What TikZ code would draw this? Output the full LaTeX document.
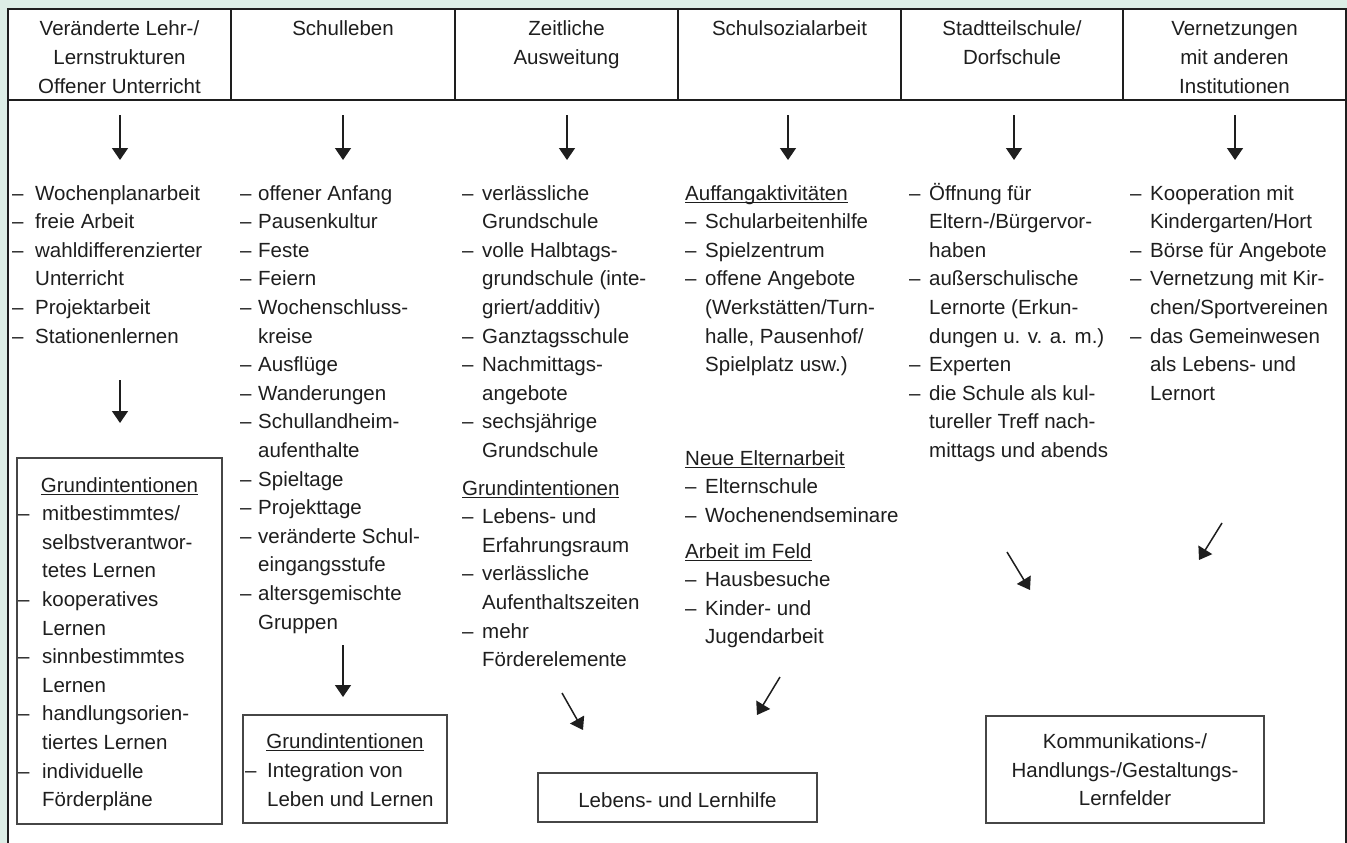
\documentclass[tikz,border=0pt]{standalone}
\usepackage{fontspec}
\setmainfont{Liberation Sans}
\usetikzlibrary{arrows.meta}
\definecolor{bggreen}{RGB}{221,238,230}
\definecolor{ink}{RGB}{30,30,30}
\definecolor{boxline}{RGB}{70,70,70}
\newsavebox\ulbox
\newcommand{\ulh}[1]{\sbox\ulbox{#1}\rlap{\rule[-3.2pt]{\wd\ulbox}{0.9pt}}\usebox\ulbox}
% #1 prefix, #2 dash x, #3 text x, #4 first baseline, #5 list
\newcommand{\colitems}[5]{%
  \foreach \k/\t [count=\i from 0] in {#5}{%
    \pgfmathsetmacro\yy{#4+28.6*\i}%
    \if\k d\node[txt] (#1-\i) at (#2,\yy) {\makebox[\dimexpr#3pt-#2pt\relax][l]{–}\t};\fi
    \if\k c\node[txt] (#1-\i) at (#3,\yy) {\t};\fi
    \if\k h\node[txt] (#1-\i) at (#2,\yy) {\ulh{\t}};\fi
  }%
}
\begin{document}
\begin{tikzpicture}[x=1pt,y=-1pt,
  font=\fontsize{20.5}{28.6}\selectfont,
  txt/.style={anchor=base west,inner sep=0pt,text=ink},
  ctr/.style={anchor=base,inner sep=0pt,text=ink},
  frameline/.style={draw=ink,line width=1.5pt},
  boxnode/.style={draw=boxline,line width=1.2pt,fill=white,inner sep=0pt},
  arr/.style={draw=ink,line width=1.5pt,-{Triangle[width=16pt,length=12pt]}}]
% background and bounding box
\fill[bggreen] (0,0) rectangle (1347,843);
\useasboundingbox (0,0) rectangle (1347,843);
\fill[white] (8,9) rectangle (1346,843);
\draw[frameline] (8,843) -- (8,9) -- (1346,9) -- (1346,843);
\draw[frameline] (8,100) -- (1346,100);
\foreach \x in {231,455,678,901,1123} \draw[frameline] (\x,9) -- (\x,100);
% header
\node[ctr] (h1a) at (119.5,36) {Veränderte Lehr-/};
\node[ctr] (h1b) at (119.5,65) {Lernstrukturen};
\node[ctr] (h1c) at (119.5,93) {Offener Unterricht};
\node[ctr] (h2a) at (343,36) {Schulleben};
\node[ctr] (h3a) at (566.5,36) {Zeitliche};
\node[ctr] (h3b) at (566.5,65) {Ausweitung};
\node[ctr] (h4a) at (789.5,36) {Schulsozialarbeit};
\node[ctr] (h5a) at (1012,36) {Stadtteilschule/};
\node[ctr] (h5b) at (1012,65) {Dorfschule};
\node[ctr] (h6a) at (1234.5,36) {Vernetzungen};
\node[ctr] (h6b) at (1234.5,65) {mit anderen};
\node[ctr] (h6c) at (1234.5,93) {Institutionen};
% columns
\colitems{c1}{12}{35}{200}{d/Wochenplanarbeit, d/freie Arbeit, d/wahldifferenzierter, c/Unterricht, d/Projektarbeit, d/Stationenlernen}
\colitems{c2}{240}{258}{200}{d/offener Anfang, d/Pausenkultur, d/Feste, d/Feiern, d/Wochenschluss-, c/kreise, d/Ausflüge, d/Wanderungen, d/Schullandheim-, c/aufenthalte, d/Spieltage, d/Projekttage, d/veränderte Schul-, c/eingangsstufe, d/altersgemischte, c/Gruppen}
\colitems{c3a}{462}{482}{200}{d/verlässliche, c/Grundschule, d/volle Halbtags-, c/{grundschule (inte-}, c/{griert/additiv)}, d/Ganztagsschule, d/Nachmittags-, c/angebote, d/sechsjährige, c/Grundschule}
\colitems{c3b}{462}{482}{495}{h/Grundintentionen, d/{Lebens- und}, c/Erfahrungsraum, d/verlässliche, c/Aufenthaltszeiten, d/mehr, c/Förderelemente}
\colitems{c4a}{685}{705}{200}{h/Auffangaktivitäten, d/Schularbeitenhilfe, d/Spielzentrum, d/offene Angebote, c/{(Werkstätten/Turn-}, c/{halle, Pausenhof/}, c/{Spielplatz usw.)}}
\colitems{c4b}{685}{705}{465}{h/Neue Elternarbeit, d/Elternschule, d/Wochenendseminare}
\colitems{c4c}{685}{705}{558}{h/Arbeit im Feld, d/Hausbesuche, d/{Kinder- und}, c/Jugendarbeit}
\colitems{c5}{909}{929}{200}{d/Öffnung für, c/{Eltern-/Bürgervor-}, c/haben, d/außerschulische, c/{Lernorte (Erkun-}, c/{dungen u. v. a. m.)}, d/Experten, d/{die Schule als kul-}, c/{tureller Treff nach-}, c/{mittags und abends}}
\colitems{c6}{1130}{1150}{200}{d/Kooperation mit, c/{Kindergarten/Hort}, d/Börse für Angebote, d/{Vernetzung mit Kir-}, c/{chen/Sportvereinen}, d/das Gemeinwesen, c/{als Lebens- und}, c/Lernort}
% boxes
\node[boxnode,minimum width=205pt,minimum height=366pt] (g1) at (119.5,641) {};
\node[ctr] (g1h) at (119.5,492) {\ulh{Grundintentionen}};
\colitems{g1l}{18}{42}{520.6}{d/{mitbestimmtes/}, c/{selbstverantwor-}, c/tetes Lernen, d/kooperatives, c/Lernen, d/sinnbestimmtes, c/Lernen, d/{handlungsorien-}, c/tiertes Lernen, d/individuelle, c/Förderpläne}
\node[boxnode,minimum width=204pt,minimum height=108pt] (g2) at (345,769) {};
\node[ctr] (g2h) at (345,748) {\ulh{Grundintentionen}};
\colitems{g2l}{245}{267}{777.5}{d/Integration von, c/Leben und Lernen}
\node[boxnode,minimum width=279pt,minimum height=49pt] (lh) at (677.5,797.5) {};
\node[ctr] (lht) at (677.5,807) {Lebens- und Lernhilfe};
\node[boxnode,minimum width=278pt,minimum height=107pt] (kh) at (1125,769.5) {};
\node[ctr] (kha) at (1125,748) {Kommunikations-/};
\node[ctr] (khb) at (1125,777) {Handlungs-/Gestaltungs-};
\node[ctr] (khc) at (1125,805.5) {Lernfelder};
% arrows
\foreach \n/\x in {1/120,2/343,3/567,4/788,5/1014,6/1235}{
  \coordinate (a\n s) at (\x,115); \coordinate (a\n e) at (\x,160);
  \draw[arr] (a\n s) -- (a\n e);
}
\coordinate (a7s) at (120,380); \coordinate (a7e) at (120,423);
\coordinate (a8s) at (343,645); \coordinate (a8e) at (343,697);
\coordinate (d1s) at (562,693); \coordinate (d1e) at (583,730);
\coordinate (d2s) at (780,677); \coordinate (d2e) at (757,715);
\coordinate (d3s) at (1007,552); \coordinate (d3e) at (1030,590);
\coordinate (d4s) at (1222,523); \coordinate (d4e) at (1199,560);
\draw[arr] (a7s) -- (a7e);
\draw[arr] (a8s) -- (a8e);
\draw[arr] (d1s) -- (d1e);
\draw[arr] (d2s) -- (d2e);
\draw[arr] (d3s) -- (d3e);
\draw[arr] (d4s) -- (d4e);
\end{tikzpicture}
\end{document}
